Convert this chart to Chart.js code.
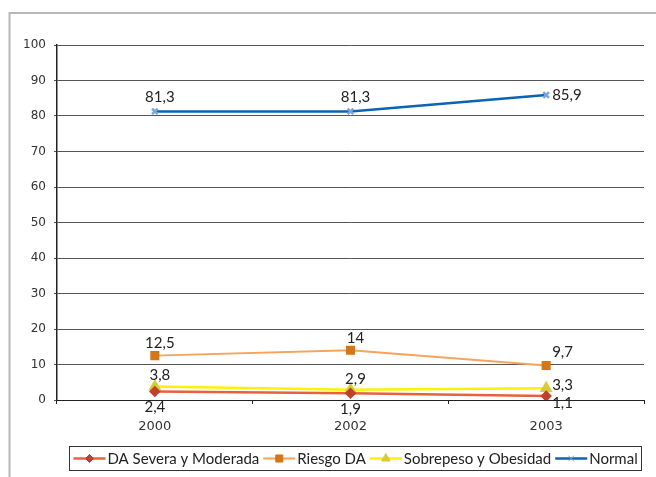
<!DOCTYPE html>
<html>
<head>
    <title>Estado nutricional</title>
    <script src="https://cdn.jsdelivr.net/npm/chart.js"></script>
    <style>
        html, body { margin: 0; padding: 0; background: #fff; }
        #wrap { width: 656px; height: 477px; position: relative; }
    </style>
</head>
<body>
<div id="wrap"><canvas id="chart" width="656" height="477"></canvas></div>
<script>
    // data
    const years = ['2000', '2002', '2003'];
    const daSevera = [2.4, 1.9, 1.1];
    const riesgoDA = [12.5, 14, 9.7];
    const sobrepeso = [3.8, 2.9, 3.3];
    const normal = [81.3, 81.3, 85.9];
    const yTicks = [0, 10, 20, 30, 40, 50, 60, 70, 80, 90, 100];

    const LABEL_FONT = 'Lato, "Liberation Sans", sans-serif';
    const TICK_FONT = '"DejaVu Sans", sans-serif';

    const fmt = v => String(v).replace('.', ',');

    // draws the value labels next to each point
    const valueLabels = {
        id: 'valueLabels',
        afterDatasetsDraw(chart) {
            const ctx = chart.ctx;
            ctx.save();
            ctx.font = '15px ' + LABEL_FONT;
            ctx.fillStyle = '#222';
            chart.data.datasets.forEach((ds, i) => {
                const meta = chart.getDatasetMeta(i);
                meta.data.forEach((pt, j) => {
                    const last = j === meta.data.length - 1;
                    const txt = fmt(ds.data[j]);
                    ctx.textBaseline = 'middle';
                    if (last) {
                        ctx.textAlign = 'left';
                        ctx.fillText(txt, pt.x + 6, pt.y + ds.lastDy);
                    } else {
                        ctx.textAlign = 'center';
                        ctx.fillText(txt, pt.x + ds.labelDx, pt.y + ds.labelDy);
                    }
                });
            });
            ctx.restore();
        }
    };

    // grey frame and the boxed legend at the bottom
    const frameAndLegend = {
        id: 'frameAndLegend',
        beforeDraw(chart) {
            const ctx = chart.ctx;
            ctx.save();
            ctx.strokeStyle = '#b8b8b8';
            ctx.lineWidth = 2;
            ctx.beginPath();
            ctx.moveTo(9.5, 477);
            ctx.lineTo(9.5, 13);
            ctx.lineTo(656, 13);
            ctx.stroke();
            ctx.restore();
        },
        afterDraw(chart) {
            const ctx = chart.ctx;
            ctx.save();
            ctx.font = '15px ' + LABEL_FONT;
            const lineLen = 32, gap = 2, itemGap = 4;
            const items = chart.data.datasets.map(ds => ({
                ds, w: lineLen + gap + ctx.measureText(ds.label).width
            }));
            const total = items.reduce((s, it) => s + it.w, 0) + itemGap * (items.length - 1);
            const boxW = Math.round(total + 8), boxH = 24;
            const bx = 355 - Math.round(boxW / 2) + 0.5, by = 446.5;
            ctx.strokeStyle = '#333';
            ctx.lineWidth = 1;
            ctx.strokeRect(bx, by, boxW, boxH);
            let x = bx + 4;
            const y = by + boxH / 2;
            items.forEach(it => {
                const ds = it.ds;
                ctx.strokeStyle = ds.borderColor;
                ctx.lineWidth = ds.borderWidth;
                ctx.beginPath();
                ctx.moveTo(x, y);
                ctx.lineTo(x + lineLen, y);
                ctx.stroke();
                ctx.fillStyle = ds.pointBackgroundColor;
                ctx.strokeStyle = ds.pointBorderColor;
                ctx.lineWidth = 1;
                Chart.helpers.drawPoint(ctx, {
                    pointStyle: ds.pointStyle,
                    radius: ds.pointRadius,
                    rotation: 0,
                    borderWidth: 1
                }, x + lineLen / 2, y);
                ctx.fillStyle = '#222';
                ctx.textAlign = 'left';
                ctx.textBaseline = 'middle';
                ctx.fillText(ds.label, x + lineLen + gap, y + 1);
                x += it.w + itemGap;
            });
            ctx.restore();
        }
    };

    const chart = new Chart(document.getElementById('chart'), {
        type: 'line',
        data: {
            labels: years,
            datasets: [{
                label: 'DA Severa y Moderada',
                data: daSevera,
                borderColor: '#e8603c',
                borderWidth: 2.5,
                pointStyle: 'rectRot',
                pointRadius: 4,
                pointBackgroundColor: '#c0402c',
                pointBorderColor: '#c0402c',
                labelDx: 0,
                labelDy: 16,
                lastDy: 7
            }, {
                label: 'Riesgo DA',
                data: riesgoDA,
                borderColor: '#f7a45a',
                borderWidth: 2,
                pointStyle: 'rect',
                pointRadius: 5,
                pointBackgroundColor: '#d27818',
                pointBorderColor: '#d27818',
                labelDx: 5,
                labelDy: -12,
                lastDy: -13
            }, {
                label: 'Sobrepeso y Obesidad',
                data: sobrepeso,
                borderColor: '#fff200',
                borderWidth: 2.5,
                pointStyle: 'triangle',
                pointRadius: 5,
                pointBackgroundColor: '#d6cc34',
                pointBorderColor: '#d6cc34',
                labelDx: 5,
                labelDy: -11,
                lastDy: -3
            }, {
                label: 'Normal',
                data: normal,
                borderColor: '#0a64b4',
                borderWidth: 2.5,
                pointStyle: 'crossRot',
                pointRadius: 4,
                pointBackgroundColor: '#7aa6dc',
                pointBorderColor: '#7aa6dc',
                labelDx: 5,
                labelDy: -14,
                lastDy: 0
            }]
        },
        options: {
            responsive: false,
            animation: false,
            layout: { padding: { left: 0, right: 12, top: 45, bottom: 0 } },
            elements: {
                line: { tension: 0 },
                point: { borderWidth: 1 }
            },
            plugins: {
                legend: { display: false },
                tooltip: { enabled: false }
            },
            scales: {
                x: {
                    offset: true,
                    grid: {
                        display: true,
                        drawOnChartArea: false,
                        offset: true,
                        color: '#222',
                        tickLength: 4
                    },
                    border: { color: '#222', width: 1 },
                    ticks: {
                        padding: 15,
                        color: '#333',
                        font: { family: TICK_FONT, size: 13 }
                    },
                    afterFit(scale) { scale.height = 77; }
                },
                y: {
                    min: 0,
                    max: 100,
                    grid: {
                        color: '#555',
                        tickLength: 3
                    },
                    border: { color: '#222', width: 1.5 },
                    afterBuildTicks(scale) { scale.ticks = yTicks.map(v => ({ value: v })); },
                    ticks: {
                        padding: 8,
                        color: '#333',
                        font: { family: TICK_FONT, size: 12 }
                    },
                    afterFit(scale) { scale.width = 57; }
                }
            }
        },
        plugins: [valueLabels, frameAndLegend]
    });
</script>
</body>
</html>
